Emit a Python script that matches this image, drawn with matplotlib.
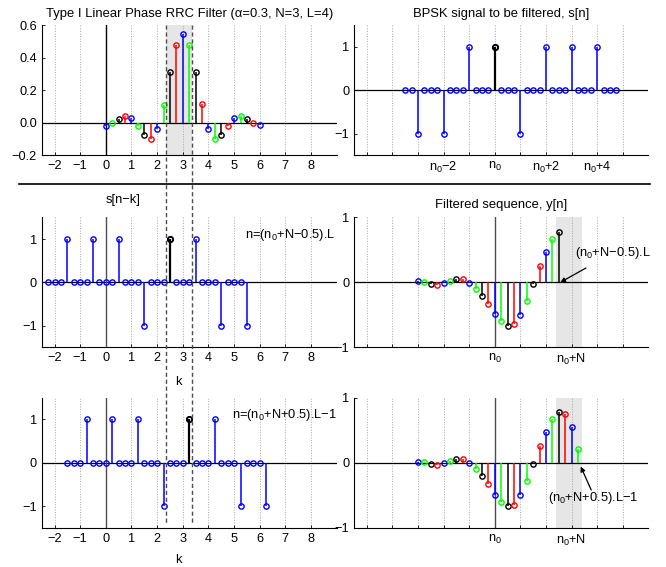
import numpy as np
import matplotlib
matplotlib.use("Agg")
import matplotlib.pyplot as plt
from matplotlib.lines import Line2D
from matplotlib.transforms import blended_transform_factory

plt.rcParams['font.family'] = ['Liberation Sans', 'DejaVu Sans']
plt.rcParams['mathtext.fontset'] = 'custom'
plt.rcParams['mathtext.rm'] = 'Liberation Sans'
plt.rcParams['font.size'] = 9.3
plt.rcParams['xtick.labelsize'] = 9.2
plt.rcParams['ytick.labelsize'] = 9.2
plt.rcParams['axes.titlesize'] = 9.4

# RRC filter taps, k = 0 .. 6 in steps of 1/L
k_h = np.arange(0, 6.01, 0.25)
h = [-0.018, -0.002, 0.025, 0.041, 0.029, -0.020, -0.078, -0.099, -0.039,
     0.111, 0.310, 0.477, 0.545, 0.477, 0.310, 0.113, -0.037, -0.099,
     -0.078, -0.018, 0.029, 0.041, 0.025, -0.002, -0.016]

# BPSK signal, n in symbol units relative to n0
n_s = np.arange(-3.5, 4.76, 0.25)
s = [0, 0, -1, 0, 0, 0, -1, 0, 0, 0, 1, 0, 0, 0, 1, 0, 0,
     0, -1, 0, 0, 0, 1, 0, 0, 0, 1, 0, 0, 0, 1, 0, 0, 0]
s_hi = 0.0

# s[n-k] for n=(n0+N-0.5).L
k_a = np.arange(-2.25, 5.51, 0.25)
sa = [0, 0, 0, 1, 0, 0, 0, 1, 0, 0, 0, 1, 0, 0, 0, -1,
      0, 0, 0, 1, 0, 0, 0, 1, 0, 0, 0, -1, 0, 0, 0, -1]
sa_hi = 2.5

# s[n-k] for n=(n0+N+0.5).L-1
k_b = np.arange(-1.5, 6.26, 0.25)
sb = [0, 0, 0, 1, 0, 0, 0, 1, 0, 0, 0, 1, 0, 0, 0, -1,
      0, 0, 0, 1, 0, 0, 0, 1, 0, 0, 0, -1, 0, 0, 0, -1]
sb_hi = 3.25

# filtered output y[n]
n_y = np.arange(-3, 3.26, 0.25)
y = [0.015, 0.005, -0.026, -0.041, -0.010, 0.026, 0.056, 0.056, -0.012,
     -0.100, -0.210, -0.330, -0.490, -0.600, -0.670, -0.646, -0.500,
     -0.280, -0.026, 0.250, 0.470, 0.667, 0.774, 0.749, 0.544, 0.205]
n_ya = 23  # samples shown up to (n0+N-0.5).L

cols = ['#0000ff', '#00ff00', 'k', '#ff0000']

left_ticks = list(range(-2, 9))
right_ticks = list(range(-5, 6))
n0 = r'$\mathregular{n_0}$'
top_right_labels = ['', '', '', n0 + '\u22122', '', n0, '', n0 + '+2', '', n0 + '+4', '']
mid_right_labels = ['', '', '', '', '', n0, '', '', n0 + '+N', '', '']

fig = plt.figure(figsize=(6.66, 5.67), dpi=100)
W, H = 666.0, 567.0


def make_ax(x0, top, w):
    ax = fig.add_axes([x0 / W, 1 - (top + 130) / H, w / W, 130 / H])
    for sp in ['top', 'right']:
        ax.spines[sp].set_visible(False)
    for sp in ['left', 'bottom']:
        ax.spines[sp].set_linewidth(0.8)
    ax.tick_params(direction='in', length=2.5, width=0.6, pad=3.5)
    ax.grid(axis='x', linestyle=':', color='0.65', linewidth=0.7)
    ax.set_axisbelow(True)
    return ax


def stems(ax, x, v, colors, hi=None):
    x = np.asarray(x)
    v = np.asarray(v)
    for c in range(len(colors)):
        sel = np.arange(len(x)) % len(colors) == c
        ax.vlines(x[sel], 0, v[sel], color=colors[c], lw=1.1, zorder=3)
        ax.plot(x[sel], v[sel], 'o', ms=3.8, mfc='none', mec=colors[c], mew=1.0, zorder=4)
    if hi is not None:
        i = int(np.argmin(np.abs(x - hi)))
        ax.vlines(x[i], 0, v[i], color='k', lw=1.6, zorder=5)
        ax.plot(x[i], v[i], 'o', ms=3.8, mfc='none', mec='k', mew=1.3, zorder=6)


LX, LW = 41.7, 295.0
RX, RW = 354.0, 294.3
tops = [25.3, 217.4, 397.7]

# top left: filter
ax1 = make_ax(LX, tops[0], LW)
ax1.set_xlim(-2.5, 9)
ax1.set_ylim(-0.2, 0.6)
ax1.set_xticks(left_ticks)
ax1.set_yticks([-0.2, 0, 0.2, 0.4, 0.6])
ax1.axvspan(2.36, 3.34, color='0.9', zorder=0.5, lw=0)
ax1.axhline(0, color='k', lw=0.9, zorder=2)
ax1.axvline(0, color='k', lw=1.0, zorder=2)
stems(ax1, k_h, h, cols)
ax1.set_title('Type I Linear Phase RRC Filter (\u03b1=0.3, N=3, L=4)', pad=6)

# top right: BPSK signal
ax2 = make_ax(RX, tops[0], RW)
ax2.set_xlim(-5.5, 6)
ax2.set_ylim(-1.5, 1.5)
ax2.set_xticks(right_ticks)
ax2.set_xticklabels(top_right_labels)
ax2.set_yticks([-1, 0, 1])
ax2.axhline(0, color='k', lw=0.9, zorder=2)
stems(ax2, n_s, s, ['#0000ff'], hi=s_hi)
ax2.set_title('BPSK signal to be filtered, s[n]', pad=6)

# middle left: s[n-k]
ax3 = make_ax(LX, tops[1], LW)
ax3.set_xlim(-2.5, 9)
ax3.set_ylim(-1.5, 1.5)
ax3.set_xticks(left_ticks)
ax3.set_yticks([-1, 0, 1])
ax3.axhline(0, color='k', lw=0.9, zorder=2)
ax3.axvline(0, color='0.3', lw=1.0, zorder=2)
stems(ax3, k_a, sa, ['#0000ff'], hi=sa_hi)
ax3.text(0.277, 1.135, 's[n\u2212k]', transform=ax3.transAxes, ha='center', va='center')
ax3.text(5.44, 1.1, 'n=(' + n0 + '+N\u22120.5).L', ha='left', va='center')
ax3.text(0.462, -0.266, 'k', transform=ax3.transAxes, ha='center', va='center')

# middle right: y[n] up to (n0+N-0.5).L
ax4 = make_ax(RX, tops[1], RW)
ax4.set_xlim(-5.5, 6)
ax4.set_ylim(-1, 1)
ax4.set_xticks(right_ticks)
ax4.set_xticklabels(mid_right_labels)
ax4.set_yticks([-1, 0, 1])
ax4.axvspan(2.4, 3.4, color='0.9', zorder=0.5, lw=0)
ax4.axhline(0, color='k', lw=0.9, zorder=2)
ax4.axvline(0, color='0.3', lw=1.0, zorder=2)
stems(ax4, n_y[:n_ya], y[:n_ya], cols)
ax4.set_title('Filtered sequence, y[n]', pad=7)
ax4.annotate('(' + n0 + '+N\u22120.5).L', xy=(2.56, 0.0), xytext=(3.12, 0.45),
             ha='left', va='center',
             arrowprops=dict(arrowstyle='-|>', color='k', lw=0.9, mutation_scale=7,
                             shrinkA=6, shrinkB=0))

# bottom left: s[n-k]
ax5 = make_ax(LX, tops[2], LW)
ax5.set_xlim(-2.5, 9)
ax5.set_ylim(-1.5, 1.5)
ax5.set_xticks(left_ticks)
ax5.set_yticks([-1, 0, 1])
ax5.axhline(0, color='k', lw=0.9, zorder=2)
ax5.axvline(0, color='0.3', lw=1.0, zorder=2)
stems(ax5, k_b, sb, ['#0000ff'], hi=sb_hi)
ax5.text(4.92, 1.1, 'n=(' + n0 + '+N+0.5).L\u22121', ha='left', va='center')
ax5.text(0.462, -0.248, 'k', transform=ax5.transAxes, ha='center', va='center')

# bottom right: y[n] up to (n0+N+0.5).L-1
ax6 = make_ax(RX, tops[2], RW)
ax6.set_xlim(-5.5, 6)
ax6.set_ylim(-1, 1)
ax6.set_xticks(right_ticks)
ax6.set_xticklabels(mid_right_labels)
ax6.set_yticks([-1, 0, 1])
ax6.axvspan(2.4, 3.4, color='0.9', zorder=0.5, lw=0)
ax6.axhline(0, color='k', lw=0.9, zorder=2)
ax6.axvline(0, color='0.3', lw=1.0, zorder=2)
stems(ax6, n_y, y, cols)
ax6.annotate('(' + n0 + '+N+0.5).L\u22121', xy=(3.36, -0.06), xytext=(2.07, -0.55),
             ha='left', va='center')
ax6.annotate('', xy=(3.36, -0.06), xytext=(3.77, -0.42),
             arrowprops=dict(arrowstyle='-|>', color='k', lw=0.9, mutation_scale=7,
                             shrinkA=0, shrinkB=0))

# dashed lines spanning the left column, separator under the top row
tr = blended_transform_factory(ax1.transData, fig.transFigure)
for xd in [2.36, 3.34]:
    fig.add_artist(Line2D([xd, xd], [1 - 25.3 / H, 1 - 523 / H], transform=tr,
                          color='0.3', lw=1.0, dashes=(3, 2), zorder=10))
fig.add_artist(Line2D([19 / W, 650 / W], [1 - 184.3 / H] * 2, transform=fig.transFigure,
                      color='k', lw=1.2))

fig.savefig('out.png', dpi=100)
